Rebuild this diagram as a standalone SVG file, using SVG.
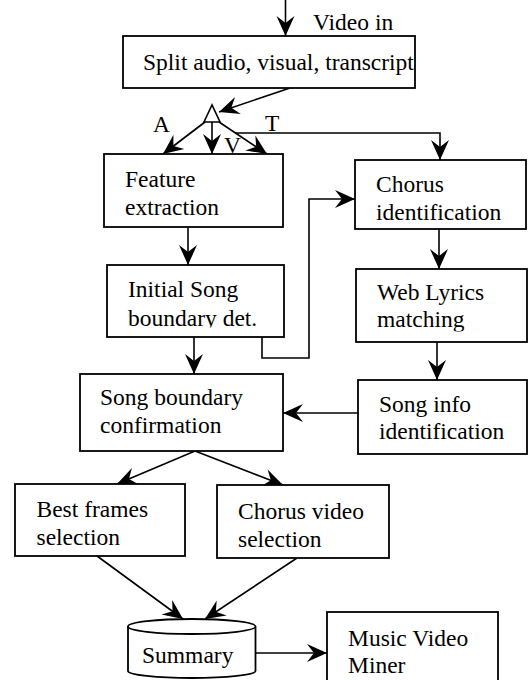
<svg xmlns="http://www.w3.org/2000/svg" width="529" height="680" viewBox="0 0 529 680">
  <style>
    .box { fill: #fff; stroke: #000; stroke-width: 1.8; }
    .lbl { font-family: 'Liberation Serif', Tinos, 'Times New Roman', Times, 'DejaVu Serif', serif; font-size: 23.5px; fill: #000; }
    .wire { fill: none; stroke: #000; stroke-width: 1.6; marker-end: url(#arr); }
  </style>
  <defs>
    <marker id="arr" markerUnits="userSpaceOnUse" markerWidth="24" markerHeight="22" viewBox="-22 -11 24 22" refX="0" refY="0" orient="auto">
      <path d="M0,0 L-20,-9 L-13,0 L-20,9 Z" fill="#000"/>
    </marker>
    <clipPath id="clipInitial"><rect x="107" y="265" width="177" height="62.5"/></clipPath>
    <clipPath id="clipWeb"><rect x="356" y="269" width="171" height="62.5"/></clipPath>
  </defs>

  <!-- connectors -->
  <g id="connectors">
    <path class="wire" d="M285.5,0 V36"/>
    <path class="wire" d="M290,88 L219,112"/>
    <path class="wire" d="M205,122 L163,154"/>
    <path class="wire" d="M212,122 V154"/>
    <path class="wire" d="M219,122 L267,154"/>
    <path class="wire" d="M235,133 H440 V160"/>
    <path class="wire" d="M188,228 V265"/>
    <path class="wire" d="M262,337 V358 H309 V199 H355"/>
    <path class="wire" d="M194,337 V374"/>
    <path class="wire" d="M439,229 V269"/>
    <path class="wire" d="M437,342 V380"/>
    <path class="wire" d="M358,413 H283"/>
    <path class="wire" d="M195,451 L117,484"/>
    <path class="wire" d="M195,451 L283,485"/>
    <path class="wire" d="M97,556 L183,619"/>
    <path class="wire" d="M297,558 L205,619"/>
    <path class="wire" d="M255.5,653 H327"/>
  </g>

  <text class="lbl" x="313" y="29.5">Video in</text>

  <g id="split">
    <rect class="box" x="123" y="36" width="292" height="52"/>
    <text class="lbl" x="143" y="69.5">Split audio, visual, transcript</text>
  </g>

  <g id="splitter">
    <polygon points="212,105 204,122 220,122" fill="#fff" stroke="#000" stroke-width="1.6"/>
    <text class="lbl" x="153" y="132">A</text>
    <text class="lbl" x="224" y="153">V</text>
    <text class="lbl" x="265" y="130.5">T</text>
  </g>

  <g id="feature">
    <rect class="box" x="104" y="154" width="179" height="73"/>
    <text class="lbl" x="125" y="186.5">Feature</text>
    <text class="lbl" x="125" y="214.5">extraction</text>
  </g>

  <g id="initial">
    <rect class="box" x="107" y="265" width="177" height="72"/>
    <g clip-path="url(#clipInitial)">
      <text class="lbl" x="128" y="297">Initial Song</text>
      <text class="lbl" x="128" y="325.5">boundary det.</text>
    </g>
  </g>

  <g id="chorus">
    <rect class="box" x="355" y="160" width="171" height="69"/>
    <text class="lbl" x="376" y="191.5">Chorus</text>
    <text class="lbl" x="376" y="219.5">identification</text>
  </g>

  <g id="lyrics">
    <rect class="box" x="356" y="269" width="171" height="73"/>
    <g clip-path="url(#clipWeb)">
      <text class="lbl" x="377" y="300">Web Lyrics</text>
      <text class="lbl" x="377" y="327">matching</text>
    </g>
  </g>

  <g id="songinfo">
    <rect class="box" x="358" y="380" width="169" height="74"/>
    <text class="lbl" x="379" y="411.5">Song info</text>
    <text class="lbl" x="379" y="439">identification</text>
  </g>

  <g id="confirm">
    <rect class="box" x="80" y="374" width="203" height="77"/>
    <text class="lbl" x="100" y="405">Song boundary</text>
    <text class="lbl" x="100" y="433">confirmation</text>
  </g>

  <g id="bestframes">
    <rect class="box" x="15" y="484" width="170" height="72"/>
    <text class="lbl" x="36.5" y="517">Best frames</text>
    <text class="lbl" x="36.5" y="544.5">selection</text>
  </g>

  <g id="chorusvideo">
    <rect class="box" x="217" y="485" width="172" height="73"/>
    <text class="lbl" x="238" y="519">Chorus video</text>
    <text class="lbl" x="238" y="546.5">selection</text>
  </g>

  <g id="summary">
    <path class="box" d="M128,626.5 V671 A63.75,7 0 0 0 255.5,671 V626.5"/>
    <ellipse class="box" cx="191.75" cy="626.5" rx="63.75" ry="7.5"/>
    <text class="lbl" x="142" y="663">Summary</text>
  </g>

  <g id="miner">
    <rect class="box" x="327" y="612" width="171" height="74"/>
    <text class="lbl" x="348" y="645.5">Music Video</text>
    <text class="lbl" x="348" y="672.5">Miner</text>
  </g>
</svg>
